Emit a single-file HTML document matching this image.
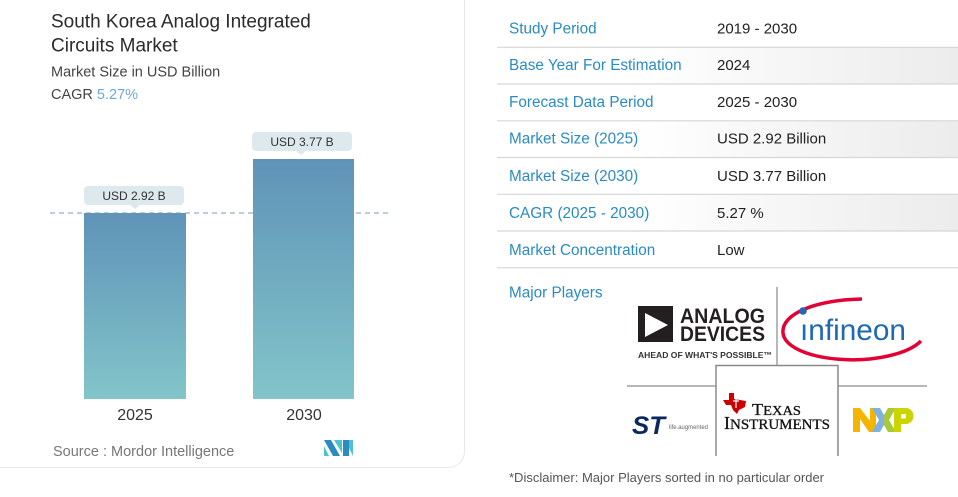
<!DOCTYPE html>
<html><head><meta charset="utf-8"><style>
html,body{margin:0;padding:0;background:#fff;width:958px;height:497px;overflow:hidden}
svg{display:block}
text{font-family:"Liberation Sans",sans-serif}
</style></head><body>
<svg width="958" height="497" viewBox="0 0 958 497" xmlns="http://www.w3.org/2000/svg">
<defs>
<linearGradient id="bar" x1="0" y1="0" x2="0" y2="1">
<stop offset="0" stop-color="#5f93b8"/><stop offset="1" stop-color="#82c5c9"/>
</linearGradient>
<linearGradient id="row" x1="0" y1="0" x2="1" y2="0">
<stop offset="0.3" stop-color="#ffffff"/><stop offset="1" stop-color="#ececec"/>
</linearGradient>
</defs>
<rect x="0" y="0" width="958" height="497" fill="#fff"/>
<!-- card -->
<rect x="-20" y="-20" width="484.5" height="487.5" rx="16" fill="#fff" stroke="#e8e8e8" stroke-width="1"/>
<!-- title -->
<text x="51" y="27.3" font-size="19" fill="#2b2b2b">South Korea Analog Integrated</text>
<text x="51" y="51.7" font-size="19" fill="#2b2b2b">Circuits Market</text>
<text x="51" y="76.7" font-size="14.5" fill="#444">Market Size in USD Billion</text>
<text x="51" y="99" font-size="14.5" fill="#444">CAGR <tspan fill="#6fa8d6">5.27%</tspan></text>
<!-- dashed line -->
<line x1="50" y1="213" x2="390" y2="213" stroke="#8fb0cc" stroke-width="1.2" stroke-dasharray="5 4"/>
<!-- bars -->
<rect x="84" y="213" width="102" height="186" fill="url(#bar)"/>
<rect x="253" y="159" width="101" height="240" fill="url(#bar)"/>
<!-- labels -->
<rect x="84" y="186" width="100" height="19" rx="4" fill="#dde9ed"/>
<polygon points="130,205 140,205 135,209" fill="#dde9ed"/>
<text x="134" y="200" font-size="12" fill="#333" text-anchor="middle">USD 2.92 B</text>
<rect x="252" y="132" width="100" height="19" rx="4" fill="#dde9ed"/>
<polygon points="296,151 306,151 301,155" fill="#dde9ed"/>
<text x="302" y="146" font-size="12" fill="#333" text-anchor="middle">USD 3.77 B</text>
<!-- axis labels -->
<text x="135" y="420" font-size="16" fill="#333" text-anchor="middle">2025</text>
<text x="304" y="420" font-size="16" fill="#333" text-anchor="middle">2030</text>
<!-- source -->
<text x="53" y="456" font-size="14.5" fill="#777">Source :  Mordor Intelligence</text>
<!-- mordor logo -->
<polygon points="324,440 331,440 340,456 333,456" fill="#2a8cc2"/>
<polygon points="324,446 324,456 329,456" fill="#4cc3cf"/>
<polygon points="334,440 342,440 342,453" fill="#4cc3cf"/>
<polygon points="343,440 349,440 349,456 343,456" fill="#2a8cc2"/>
<polygon points="349,440 353,440 353,456 349,448" fill="#4cc3cf"/>

<!-- table -->
<rect x="497" y="47.3" width="461" height="36.7" fill="url(#row)"/>
<rect x="497" y="120.8" width="461" height="36.7" fill="url(#row)"/>
<rect x="497" y="194.3" width="461" height="36.7" fill="url(#row)"/>
<g stroke="#d6d6d6" stroke-width="1.2">
<line x1="497" y1="47.3" x2="958" y2="47.3"/>
<line x1="497" y1="84" x2="958" y2="84"/>
<line x1="497" y1="120.8" x2="958" y2="120.8"/>
<line x1="497" y1="157.5" x2="958" y2="157.5"/>
<line x1="497" y1="194.3" x2="958" y2="194.3"/>
<line x1="497" y1="231" x2="958" y2="231"/>
<line x1="497" y1="267.8" x2="958" y2="267.8"/>
</g>
<g font-size="15.3" fill="#2a8bc2">
<text x="509" y="33.3">Study Period</text>
<text x="509" y="70">Base Year For Estimation</text>
<text x="509" y="106.8">Forecast Data Period</text>
<text x="509" y="143.7">Market Size (2025)</text>
<text x="509" y="181.2">Market Size (2030)</text>
<text x="509" y="218">CAGR (2025 - 2030)</text>
<text x="509" y="255">Market Concentration</text>
<text x="509" y="297.7">Major Players</text>
</g>
<g font-size="15" fill="#222">
<text x="717" y="33.3">2019 - 2030</text>
<text x="717" y="70">2024</text>
<text x="717" y="106.8">2025 - 2030</text>
<text x="717" y="143.7">USD 2.92 Billion</text>
<text x="717" y="181.2">USD 3.77 Billion</text>
<text x="717" y="218">5.27 %</text>
<text x="717" y="255">Low</text>
</g>

<!-- logo grid lines -->
<g stroke="#a0a0a0" stroke-width="1.5" fill="none">
<line x1="777" y1="287" x2="777" y2="365"/>
<line x1="627" y1="386" x2="716" y2="386"/>
<line x1="838" y1="386" x2="927" y2="386"/>
</g>
<path d="M716 456 V365.5 H838 V456" stroke="#8a8a8a" stroke-width="1.5" fill="none"/>

<!-- Analog Devices -->
<rect x="638" y="306" width="35" height="36" fill="#231f20"/>
<polygon points="645,313 645,337 668,325" fill="#fff"/>
<text x="680" y="323" font-size="21" font-weight="bold" fill="#231f20" textLength="85" lengthAdjust="spacingAndGlyphs">ANALOG</text>
<text x="680" y="341" font-size="21" font-weight="bold" fill="#231f20" textLength="85" lengthAdjust="spacingAndGlyphs">DEVICES</text>
<text x="638" y="358" font-size="8.5" font-weight="bold" fill="#333" textLength="134" lengthAdjust="spacingAndGlyphs">AHEAD OF WHAT'S POSSIBLE™</text>

<!-- Infineon -->
<path d="M862 299 C815 300 781 314 783 333 C785 352 828 363 870 359 C895 356 912 350 921 341" stroke="#e30034" stroke-width="3.5" fill="none"/>
<text x="800" y="340" font-size="30" fill="#1f69b3" textLength="106" lengthAdjust="spacingAndGlyphs">ınfineon</text>
<circle cx="803" cy="311" r="3.8" fill="#1f69b3"/>

<!-- ST -->
<text x="632" y="434" font-size="25" font-weight="bold" font-style="italic" fill="#0a2a5c" textLength="33" lengthAdjust="spacingAndGlyphs">ST</text>
<text x="669" y="429" font-size="6" fill="#666" textLength="39" lengthAdjust="spacingAndGlyphs">life.augmented</text>

<!-- Texas Instruments -->
<polygon points="729,393 734,393 734,399 746,401 745,407 739,410 737,414 733,410 731,405 726,405 723,400 729,400" fill="#cc0000"/>
<path d="M736 398 V408 M733 401 H739" stroke="#fff" stroke-width="1.2"/>
<text x="752" y="415" font-size="17" fill="#111" stroke="#111" stroke-width="0.3" textLength="49" lengthAdjust="spacingAndGlyphs" style="font-family:'Liberation Serif',serif">T<tspan font-size="13.5">EXAS</tspan></text>
<text x="724" y="429" font-size="17.5" fill="#111" stroke="#111" stroke-width="0.3" textLength="106" lengthAdjust="spacingAndGlyphs" style="font-family:'Liberation Serif',serif">I<tspan font-size="14.5">NSTRUMENTS</tspan></text>

<!-- NXP -->
<polygon points="853,408 860,408 870,421 870,408 876,408 876,432 869,432 860,419 860,432 853,432" fill="#f4b400"/>
<polygon points="872,408 880,408 884,415 884,425 880,432 872,432 879,420" fill="#7fb2de"/>
<polygon points="884,415 888,408 896,408 889,420 896,432 888,432 884,425" fill="#a8c93b"/>
<path d="M894 408 H906 A7.5 8 0 0 1 906 424 H901 V432 H894 Z" fill="#c9d400"/>
<rect x="901" y="414" width="5" height="4.5" fill="#fff"/>

<!-- disclaimer -->
<text x="509" y="482" font-size="13" fill="#555">*Disclaimer: Major Players sorted in no particular order</text>
</svg>
</body></html>
